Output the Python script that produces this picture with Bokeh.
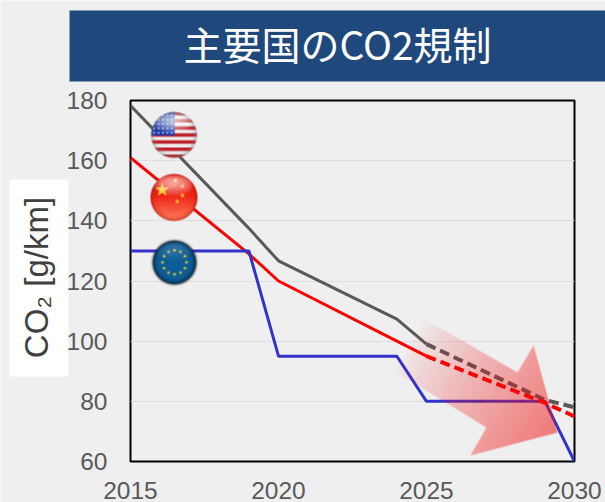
import numpy as np
from bokeh.core.properties import value
from bokeh.embed import file_html
from bokeh.models import FixedTicker, Range1d
from bokeh.plotting import figure
from bokeh.resources import INLINE

# Regulation paths, g/km
years_actual = [2015, 2019, 2020, 2024, 2025]
years_projected = [2025, 2029, 2030]
us_actual = [178.3, 137.5, 126.7, 107.3, 99]
us_projected = [99, 80.5, 78]
china_actual = [161, 129, 120, 100, 95]
china_projected = [95, 79.5, 75]
eu_years = [2015, 2019, 2020, 2024, 2025, 2029, 2030]
eu_values = [130, 130, 95, 95, 80, 80, 60]

x_ticks = [2015, 2020, 2025, 2030]
y_ticks = [60, 80, 100, 120, 140, 160, 180]

title_text = "主要国のCO2規制"
y_title_text = "CO₂ [g/km]"

W, H = 605, 502
LEFT, RIGHT, TOP, BOTTOM = 130, 574, 100, 461
BG = "#efefef"


def data_x(px):
    return 2015 + (px - LEFT) * 15 / (RIGHT - LEFT)


def data_y(py):
    return 180 - (py - TOP) * 120 / (BOTTOM - TOP)


def poly_mask(xs, ys, pts):
    inside = np.zeros(xs.shape, bool)
    n = len(pts)
    for i in range(n):
        x1, y1 = pts[i]
        x2, y2 = pts[(i + 1) % n]
        cond = (y1 > ys) != (y2 > ys)
        with np.errstate(divide="ignore", invalid="ignore"):
            cross = (x2 - x1) * (ys - y1) / (y2 - y1) + x1
        inside ^= cond & (xs < cross)
    return inside


def star(cx, cy, r, rot=-np.pi / 2):
    return [
        (
            cx + (r if k % 2 == 0 else r * 0.38) * np.cos(rot + k * np.pi / 5),
            cy + (r if k % 2 == 0 else r * 0.38) * np.sin(rot + k * np.pi / 5),
        )
        for k in range(10)
    ]


def grid(x0, y0, w, h, ss=4):
    xs, ys = np.meshgrid(
        x0 + (np.arange(w * ss) + 0.5) / ss, y0 + (np.arange(h * ss) + 0.5) / ss
    )
    return xs, ys


def down(a, ss=4):
    h, w = a.shape[0] // ss, a.shape[1] // ss
    return a.reshape(h, ss, w, ss, -1).mean(axis=(1, 3))


def paint(rgb, mask, color, alpha=1.0):
    c = np.array(color, float)
    a = mask[..., None] * alpha if np.ndim(alpha) == 0 else (mask * alpha)[..., None]
    return rgb * (1 - a) + c * a


def place(p, rgba, x0, y0):
    h, w = rgba.shape[:2]
    a = np.clip(rgba[..., 3:], 0, 1)
    rgb = rgba[..., :3]
    out = np.dstack([rgb, a * 255]).round().clip(0, 255).astype(np.uint8)
    img = out[::-1].copy().view(np.uint32).reshape(h, w)
    p.image_rgba(
        image=[img],
        x=[data_x(x0)],
        y=[data_y(y0 + h)],
        dw=[data_x(x0 + w) - data_x(x0)],
        dh=[data_y(y0) - data_y(y0 + h)],
    )


def sphere(cx, cy, r, pad, base_fn, gloss=0.75, rim=(0, 0, 0), rim_alpha=0.35, shadow=0.0):
    x0, y0 = int(cx - r - pad), int(cy - r - pad)
    size = int(2 * (r + pad)) + 2
    xs, ys = grid(x0, y0, size, size)
    u, v = (xs - cx) / r, (ys - cy) / r
    d = np.hypot(u, v)
    inside = d <= 1
    rgb = base_fn(xs, ys, u, v)
    # darkening towards the limb
    rgb = paint(rgb, np.ones(d.shape), rim, np.clip((d - 0.72) / 0.28, 0, 1) ** 2 * rim_alpha)
    # highlight over the top half
    gd = np.hypot((u + 0.02) / 0.82, (v + 0.5) / 0.46)
    g = np.clip(1 - gd, 0, 1) ** 0.5 * np.clip(0.2 - v, 0, 1) * gloss
    rgb = paint(rgb, np.ones(d.shape), (255, 255, 255), g)
    alpha = inside.astype(float)
    if shadow:
        alpha = np.maximum(alpha, np.clip(1 - (d - 1) * r / pad, 0, 1) ** 2 * shadow)
        rgb = np.where(inside[..., None], rgb, np.array([20.0, 20, 20]))
    return down(np.dstack([rgb, alpha])), x0, y0


def us_flag(xs, ys, u, v):
    rgb = np.ones(u.shape + (3,)) * np.array([238.0, 238, 238])
    stripe = np.floor((v + 1) * 13 / 2).astype(int) % 2 == 0
    rgb = paint(rgb, stripe, (190, 32, 42))
    canton = (u < 0.03) & (v < 0.02)
    rgb = paint(rgb, canton, (30, 60, 170))
    dots = (np.hypot(((u * 23) % 4.4) - 2.2, ((v * 23) % 4.4) - 2.2) < 0.8) & canton
    rgb = paint(rgb, dots, (240, 240, 250))
    return rgb


def china_flag(xs, ys, u, v):
    t = np.clip((v + 0.1) / 1.1, 0, 1)[..., None]
    rgb = np.array([236.0, 34, 22]) * (1 - t) + np.array([255.0, 128, 92]) * t
    gold = (250, 205, 40)
    for sx, sy, sr, rot in [
        (161.7, 189.3, 7.5, -1.57),
        (175, 180, 2.8, -1.0),
        (182, 185.7, 2.8, -1.3),
        (182, 195, 2.8, -1.8),
        (176.7, 201, 2.8, -1.57),
    ]:
        rgb = paint(rgb, poly_mask(xs, ys, star(sx, sy, sr, rot)), gold)
    return rgb


def eu_flag(xs, ys, u, v):
    rgb = np.ones(u.shape + (3,)) * np.array([12.0, 92, 150])
    for k in range(12):
        a = k * np.pi / 6
        sx, sy = 174 + 12 * np.cos(a), 261.7 + 12 * np.sin(a)
        rgb = paint(rgb, poly_mask(xs, ys, star(sx, sy, 2.2)), (225, 210, 60))
    return rgb


def arrow_rgba():
    outline = [(423, 318), (517, 372), (533, 345), (557, 432), (470, 455), (486, 427), (393, 370)]
    x0, y0, w, h = 388, 312, 175, 148
    xs, ys = grid(x0, y0, w, h)
    t = np.clip((0.87 * xs + 0.5 * ys - 527) / (700 - 527), 0, 1)
    alpha = poly_mask(xs, ys, outline) * t ** 0.8 * 0.54
    rgb = np.ones(xs.shape + (3,)) * np.array([240.0, 20, 20])
    return down(np.dstack([rgb, alpha])), x0, y0


# Backdrop in page pixels: header band, slide title, white panel with the vertical title
back = figure(
    width=W,
    height=H,
    output_backend="svg",
    toolbar_location=None,
    x_range=Range1d(0, W),
    y_range=Range1d(H, 0),
    x_axis_location=None,
    y_axis_location=None,
    min_border=0,
    background_fill_color=BG,
    border_fill_color=BG,
    outline_line_color=None,
)
back.grid.visible = False
back.quad(left=[69], right=[W], top=[10], bottom=[81], fill_color="#1f497d", line_color=None)
back.text(x=[337], y=[42], text=[title_text], text_font=value("Noto Sans CJK JP"),
          text_font_size="39px", text_color="#ffffff", text_align="center", text_baseline="middle")
back.quad(left=[9], right=[68], top=[179], bottom=[376], fill_color="#ffffff", line_color=None)
back.text(x=[36], y=[277], text=[y_title_text], angle=np.pi / 2, text_font=value("Liberation Sans"),
          text_font_size="33px", text_color="#404040", text_align="center", text_baseline="middle")

# Chart on a transparent canvas, pulled up over the backdrop
p = figure(
    width=W,
    height=H,
    output_backend="svg",
    toolbar_location=None,
    x_range=Range1d(2015, 2030),
    y_range=Range1d(60, 180),
    min_border_left=LEFT,
    min_border_right=W - RIGHT,
    min_border_top=TOP,
    min_border_bottom=H - BOTTOM,
    background_fill_color=None,
    border_fill_color=None,
    outline_line_color="#000000",
    outline_line_width=2,
    margin=(-H, 0, 0, 0),
)

p.xgrid.visible = False
p.ygrid.grid_line_color = "#dedede"
p.ygrid.grid_line_width = 1

p.xaxis.ticker = FixedTicker(ticks=x_ticks)
p.yaxis.ticker = FixedTicker(ticks=y_ticks)
for ax in (p.xaxis[0], p.yaxis[0]):
    ax.axis_line_color = None
    ax.major_tick_line_color = None
    ax.minor_tick_line_color = None
    ax.major_label_text_font = "Liberation Sans"
    ax.major_label_text_font_size = "24.5px"
    ax.major_label_text_color = "#595959"
p.xaxis.major_label_standoff = 14
p.yaxis.major_label_standoff = 17

GREY, RED, BLUE = "#595959", "#ff0000", "#3333cc"
p.line(years_actual, us_actual, line_color=GREY, line_width=3)
p.line(years_actual, china_actual, line_color=RED, line_width=3)
p.line(eu_years, eu_values, line_color=BLUE, line_width=3)
p.line(years_projected, us_projected, line_color=GREY, line_width=4, line_dash="10 5")
p.line(years_projected, china_projected, line_color=RED, line_width=4, line_dash="10 5")

img, ax0, ay0 = arrow_rgba()
place(p, img, ax0, ay0)

for args, kw in [
    ((173.5, 134.5, 23, 1, us_flag), dict(gloss=0.95, rim=(120, 120, 120), rim_alpha=0.5)),
    ((173.5, 197, 23.5, 1, china_flag), dict(gloss=0.8, rim=(170, 20, 10), rim_alpha=0.6)),
    ((174, 262, 21.5, 3, eu_flag), dict(gloss=0.18, rim=(5, 35, 55), rim_alpha=0.85, shadow=0.7)),
]:
    im, fx, fy = sphere(*args, **kw)
    place(p, im, fx, fy)

open("out.html", "w").write(file_html([back, p], INLINE))
